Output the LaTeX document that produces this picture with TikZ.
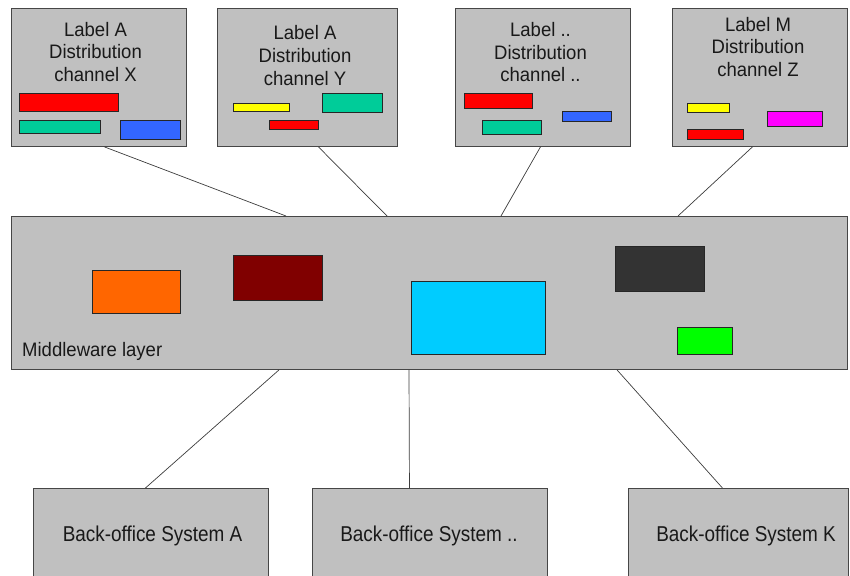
\documentclass[tikz,border=0pt]{standalone}
\usepackage{fontspec}
\setmainfont{Liberation Sans}
\newfontfamily\panelfont[FakeStretch=0.95]{Liberation Sans}
\newfontfamily\backfont[FakeStretch=0.88]{Liberation Sans}
\definecolor{panelgray}{RGB}{192,192,192}
\definecolor{panelline}{RGB}{70,70,70}
\definecolor{wireline}{RGB}{60,60,60}
\definecolor{cRed}{RGB}{255,0,0}
\definecolor{cTeal}{RGB}{0,204,153}
\definecolor{cBlue}{RGB}{51,102,255}
\definecolor{cYellow}{RGB}{255,255,0}
\definecolor{cMagenta}{RGB}{255,0,255}
\definecolor{cOrange}{RGB}{255,102,0}
\definecolor{cMaroon}{RGB}{128,0,0}
\definecolor{cCyan}{RGB}{0,204,255}
\definecolor{cCharcoal}{RGB}{51,51,51}
\definecolor{cGreen}{RGB}{0,255,0}
\begin{document}
\begin{tikzpicture}[x=1pt,y=-1pt,
  panel/.style={draw=panelline,fill=panelgray,line width=0.9pt,inner sep=0pt,anchor=north west},
  bar/.style={draw=black!85,line width=0.7pt,inner sep=0pt,anchor=north west},
  title/.style={font=\panelfont\fontsize{19.5}{22.8}\selectfont,text=black!90,align=center,inner sep=0pt,anchor=north},
  caption/.style={font=\panelfont\fontsize{19.5}{22}\selectfont,text=black!90,inner sep=0pt},
  backcap/.style={font=\backfont\fontsize{21.5}{24}\selectfont,text=black!90,inner sep=0pt,anchor=base},
  wire/.style={draw=wireline,line width=0.7pt}]
\useasboundingbox (0,0) rectangle (850,575);
\clip (0,0) rectangle (850,575);

% distribution channels
\node[panel,minimum width=175pt,minimum height=138pt] (ch1) at (11,8) {};
\node[panel,minimum width=180pt,minimum height=138pt] (ch2) at (217,8) {};
\node[panel,minimum width=175pt,minimum height=138pt] (ch3) at (455,8) {};
\node[panel,minimum width=175pt,minimum height=138pt] (ch4) at (672,8) {};

\node[title] (t1) at (95.5,21.7) {Label A\\Distribution\\channel X};
\node[title] (t2) at (305,25.3) {Label A\\Distribution\\channel Y};
\node[title] (t3) at (540.5,22) {Label ..\\Distribution\\channel ..};
\node[title] (t4) at (758,16.7) {Label M\\Distribution\\channel Z};

% channel components
\node[bar,fill=cRed,minimum width=99pt,minimum height=18pt] (x1) at (19,93) {};
\node[bar,fill=cTeal,minimum width=81pt,minimum height=13pt] (x2) at (19,120) {};
\node[bar,fill=cBlue,minimum width=60pt,minimum height=19pt] (x3) at (120,120) {};

\node[bar,fill=cYellow,minimum width=56pt,minimum height=8pt] (y1) at (233,103) {};
\node[bar,fill=cTeal,minimum width=60pt,minimum height=19pt] (y2) at (322,93) {};
\node[bar,fill=cRed,minimum width=49pt,minimum height=9pt] (y3) at (269,120) {};

\node[bar,fill=cRed,minimum width=68pt,minimum height=15pt] (d1) at (464,93) {};
\node[bar,fill=cTeal,minimum width=59pt,minimum height=14pt] (d2) at (482,120) {};
\node[bar,fill=cBlue,minimum width=49pt,minimum height=10pt] (d3) at (562,111) {};

\node[bar,fill=cYellow,minimum width=42pt,minimum height=9pt] (z1) at (687,103) {};
\node[bar,fill=cRed,minimum width=56pt,minimum height=10pt] (z2) at (687,129) {};
\node[bar,fill=cMagenta,minimum width=55pt,minimum height=15pt] (z3) at (767,111) {};

% middleware layer
\node[panel,minimum width=836pt,minimum height=153pt] (mw) at (11,216) {};
\node[caption,anchor=base west] (mwlabel) at (22,356.7) {Middleware layer};
\node[bar,fill=cOrange,minimum width=88pt,minimum height=43pt] (m1) at (92,270) {};
\node[bar,fill=cMaroon,minimum width=89pt,minimum height=45pt] (m2) at (233,255) {};
\node[bar,fill=cCyan,minimum width=134pt,minimum height=73pt] (m3) at (411,281) {};
\node[bar,fill=cCharcoal,minimum width=89pt,minimum height=45pt] (m4) at (615,246) {};
\node[bar,fill=cGreen,minimum width=55pt,minimum height=27pt] (m5) at (677,327) {};

% back-office systems
\node[panel,minimum width=235pt,minimum height=110pt] (bo1) at (33,488) {};
\node[panel,minimum width=235pt,minimum height=110pt] (bo2) at (312,488) {};
\node[panel,minimum width=220pt,minimum height=110pt] (bo3) at (628,488) {};
\node[backcap] (bl1) at (152.5,541.7) {Back-office System A};
\node[backcap] (bl2) at (429,541.7) {Back-office System ..};
\node[backcap] (bl3) at (746,541.7) {Back-office System K};

% connections
\draw[wire] ([xshift=5.5pt]ch1.south) -- ([xshift=275pt]mw.north west);
\draw[wire] ([xshift=11pt]ch2.south) -- ([xshift=376pt]mw.north west);
\draw[wire] ([xshift=-2.5pt]ch3.south) -- ([xshift=490pt]mw.north west);
\draw[wire] ([xshift=-7.5pt]ch4.south) -- ([xshift=667pt]mw.north west);
\draw[wire] ([xshift=268pt]mw.south west) -- ([xshift=-5.5pt]bo1.north);
\draw[wire] ([xshift=398pt]mw.south west) -- ([xshift=-20.5pt]bo2.north);
\draw[wire] ([xshift=606pt]mw.south west) -- ([xshift=-16pt]bo3.north);
\end{tikzpicture}
\end{document}
